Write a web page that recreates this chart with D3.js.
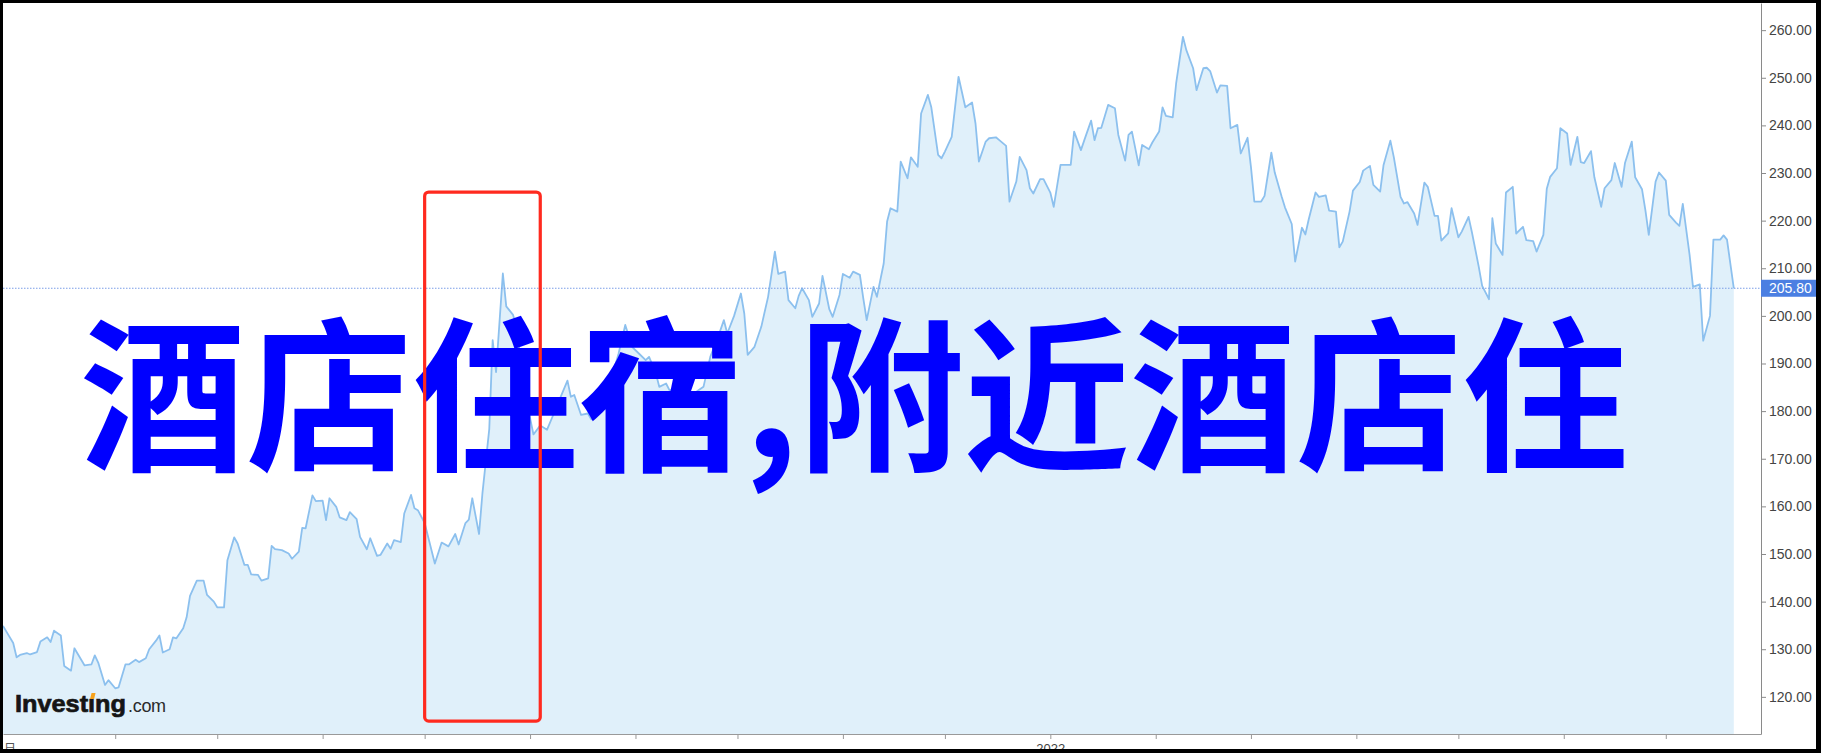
<!DOCTYPE html>
<html><head><meta charset="utf-8">
<script src="https://cdn.jsdelivr.net/npm/d3@7"></script>
<style>html,body{margin:0;padding:0;background:#fff;overflow:hidden}</style>
</head><body><svg id="chart" width="1821" height="753"></svg>
<script>
// ---------- data ----------
const startDate = "2021-02-27";           // day 0 of the series
const endDate = "2022-07-29";             // right edge of the time axis
const dayNumbers = [0,3,4,5,7,8,10,11,13,14,15,17,18,20,21,23,24,26,27,28,30,31,33,34,36,37,39,40,42,43,45,46,47,49,50,51,53,54,55,57,59,60,62,63,65,66,68,69,71,72,73,75,76,78,79,80,82,84,85,87,88,89,91,92,94,95,96,98,99,101,102,104,105,107,108,110,111,113,114,115,117,118,120,121,122,124,127,129,131,133,134,136,137,138,140,141,143,144,145,147,148,150,151,152,154,156,158,160,162,164,166,167,168,170,172,173,174,176,179,181,183,185,187,189,190,192,193,195,196,199,201,204,206,208,210,212,213,215,217,218,219,221,223,225,227,228,230,231,233,234,235,237,238,240,241,243,244,246,247,249,250,252,253,254,256,257,259,260,261,263,264,266,267,269,270,272,273,275,276,277,279,280,281,283,285,286,287,289,290,292,293,295,296,298,299,301,302,303,305,306,308,309,311,314,315,317,318,320,321,322,323,325,327,328,330,331,332,334,335,337,338,340,341,342,344,345,347,348,350,351,353,354,355,357,358,360,361,363,364,366,367,368,370,371,373,374,376,377,379,380,382,383,384,386,387,389,390,392,393,394,396,397,399,400,402,403,405,406,408,409,411,412,413,415,416,418,419,421,422,423,425,426,428,429,431,432,434,435,437,438,439,441,442,444,445,447,448,450,451,453,454,455,457,458,460,461,463,464,465,467,468,470,471,473,474,476,477,479,480,482,483,484,486,487,489,490,492,493,494,496,497,499,500,502,503,505,506,507,509];
const closeValues = [134.9,131.3,128.3,128.8,129.2,128.9,129.4,131.6,132.5,131.5,133.9,132.9,126.5,125.5,130.2,127.8,126.6,126.8,128.7,127.2,122.5,123.5,121.8,122.0,126.8,126.8,127.8,127.3,128.1,130.0,131.8,132.9,129.3,130.0,132.5,132.3,134.4,136.7,141.2,144.4,144.4,141.4,140.0,138.8,138.8,148.7,153.5,152.2,147.7,147.7,145.7,145.6,144.4,144.9,151.7,151.0,150.8,150.1,149.0,150.5,155.5,155.4,162.3,161.1,161.2,157.1,161.7,159.9,157.7,157.1,158.8,157.3,153.6,151.0,153.3,149.6,149.8,152.2,151.1,152.9,152.5,158.5,162.4,159.6,159.2,156.5,148.0,152.4,151.6,154.2,152.0,156.5,157.2,161.7,154.2,162.8,176.2,194.9,188.2,208.9,202.0,200.2,197.8,192.0,182.0,175.1,177.0,176.1,179.5,183.0,186.4,183.0,183.4,179.2,179.5,178.3,178.5,181.0,187.0,192.0,198.1,193.5,192.1,190.7,191.4,187.9,185.1,185.8,184.4,184.4,183.5,184.1,185.1,191.4,195.0,199.1,196.3,200.0,204.7,200.5,191.8,193.5,197.7,204.0,213.5,208.8,209.3,203.3,201.6,204.2,205.8,203.3,199.8,202.6,208.4,201.4,199.8,204.4,208.8,208.0,209.3,208.6,203.7,199.1,206.1,204.0,211.0,219.8,222.6,221.9,232.4,228.9,233.3,231.3,242.5,246.4,243.8,233.8,233.1,234.5,237.6,243.9,250.2,243.8,244.8,240.4,232.4,236.6,237.3,237.5,236.9,235.7,224.0,228.2,233.4,230.6,226.8,225.7,228.7,228.7,225.9,222.9,231.7,231.7,238.7,234.8,236.9,241.0,236.9,239.4,239.5,244.3,243.6,238.0,232.6,238.0,238.7,231.6,235.9,235.0,236.4,238.7,243.8,242.0,241.7,248.8,258.6,255.8,252.0,247.4,252.0,252.1,251.4,246.9,248.4,248.3,239.4,240.1,234.1,237.4,231.3,224.0,224.0,225.2,234.3,230.1,225.1,222.8,219.3,211.4,218.5,217.1,220.3,225.9,225.0,225.3,222.1,221.9,214.4,215.6,221.9,226.3,228.1,230.5,231.5,227.5,226.1,231.7,236.8,233.4,225.0,223.6,223.9,221.5,219.1,228.0,227.1,221.0,221.0,215.8,217.3,222.6,216.5,217.7,220.8,217.5,210.3,206.3,203.5,220.5,215.2,212.8,225.9,227.1,217.3,218.7,215.9,215.7,213.5,217.0,226.7,229.2,231.0,239.4,238.3,231.7,237.6,232.3,232.1,234.6,229.1,222.9,226.8,228.5,232.1,227.1,232.1,236.6,229.1,226.6,222.2,217.0,228.2,230.1,228.4,221.2,219.6,218.9,223.5,212.8,206.1,206.6,194.8,200.0,216.0,216.0,216.9,216.0,205.8];
const yTickValues = [120,130,140,150,160,170,180,190,200,210,220,230,240,250,260];
const yDomain = [112.2, 265.7];
const lastPrice = 205.80;
const yearLabel = "2022";
const cornerLabel = "日";
const titleText = "酒店住宿,附近酒店住";
const highlightDays = [124, 158.2];       // red box: day range
const highlightValues = [226.0, 114.9];   // red box: value range
const logoWord = "Investıng";
const logoSuffix = ".com";

// ---------- layout ----------
const W = 1821, H = 753;
const plotLeft = 3, plotRight = 1761, plotTop = 3, plotBottom = 734;
const svg = d3.select("#chart");
const parse = d3.utcParse("%Y-%m-%d");
const t0 = parse(startDate);
const series = dayNumbers.map((d, i) => ({date: d3.utcDay.offset(t0, d), value: closeValues[i]}));

const x = d3.scaleUtc().domain([t0, parse(endDate)]).range([plotLeft, plotRight]);
const y = d3.scaleLinear().domain(yDomain).range([plotBottom, plotTop]);

svg.append("rect").attr("width", W).attr("height", H).attr("fill", "#fff");

// area + line
svg.append("path").datum(series)
  .attr("d", d3.area().x(d => x(d.date)).y0(plotBottom).y1(d => y(d.value)))
  .attr("fill", "#e0f0fa");
svg.append("path").datum(series)
  .attr("d", d3.line().x(d => x(d.date)).y(d => y(d.value)))
  .attr("fill", "none").attr("stroke", "#8cc0ee").attr("stroke-width", 1.8)
  .attr("stroke-linejoin", "round");

// last price dotted line
svg.append("line")
  .attr("x1", plotLeft).attr("x2", plotRight)
  .attr("y1", y(lastPrice)).attr("y2", y(lastPrice))
  .attr("stroke", "#7b9ee8").attr("stroke-width", 1).attr("stroke-dasharray", "1.5,1.5");

// y axis (right)
const yAxis = svg.append("g").attr("transform", `translate(${plotRight},0)`)
  .call(d3.axisRight(y).tickValues(yTickValues).tickFormat(d3.format(".2f")).tickSize(5).tickSizeOuter(0).tickPadding(3));
yAxis.select(".domain").attr("stroke", "#8a8a8a");
yAxis.selectAll(".tick line").attr("stroke", "#8a8a8a");
yAxis.selectAll(".tick text").attr("fill", "#444").attr("font-size", 14)
  .attr("font-family", "'Liberation Sans', Arial, sans-serif");

// x axis (bottom)
const monthTicks = d3.utcMonth.range(d3.utcMonth.ceil(d3.utcDay.offset(t0, 10)), parse(endDate));
const xAxis = svg.append("g").attr("transform", `translate(0,${plotBottom})`)
  .call(d3.axisBottom(x).tickValues(monthTicks)
    .tickFormat(d => d.getUTCMonth() === 0 ? yearLabel : "")
    .tickSize(5).tickSizeOuter(0).tickPadding(5));
xAxis.select(".domain").attr("stroke", "#999");
xAxis.selectAll(".tick line").attr("stroke", "#999");
xAxis.selectAll(".tick text").attr("fill", "#444").attr("font-size", 13)
  .attr("font-family", "'Liberation Sans', Arial, sans-serif");
svg.append("text").attr("x", 4).attr("y", 753).attr("font-size", 12)
  .attr("fill", "#555").attr("font-family", "'Noto Sans CJK SC', sans-serif").text(cornerLabel);

// last price badge
const badgeY = y(lastPrice);
svg.append("rect").attr("x", plotRight).attr("y", badgeY - 8.5).attr("width", 56).attr("height", 17)
  .attr("fill", "#4b7fe2");
svg.append("text").attr("x", plotRight + 8).attr("y", badgeY).attr("dy", "0.36em")
  .attr("fill", "#fff").attr("font-size", 14)
  .attr("font-family", "'Liberation Sans', Arial, sans-serif")
  .text(d3.format(".2f")(lastPrice));

// logo
const logoText = svg.append("text").attr("x", 15).attr("y", 712)
  .attr("font-family", "'Liberation Sans', Arial, sans-serif").attr("font-weight", "bold")
  .attr("font-size", 24).attr("fill", "#151515").attr("stroke", "#151515").attr("stroke-width", 0.7)
  .attr("textLength", 111).attr("lengthAdjust", "spacingAndGlyphs").text(logoWord);
svg.append("text").attr("x", 128).attr("y", 712)
  .attr("font-family", "'Liberation Sans', Arial, sans-serif")
  .attr("font-size", 18).attr("fill", "#2a2a2a").attr("letter-spacing", -0.3).text(logoSuffix);
try {
  const ext = logoText.node().getExtentOfChar(6);
  const cx = ext.x + ext.width / 2;
  svg.append("path")
    .attr("d", `M${cx - 1.5},${699} L${cx + 2.5},${699} L${cx + 4},${693} L${cx},${693} Z`)
    .attr("fill", "#f7a21b");
} catch (e) {}

// title overlay
svg.append("text").attr("x", 80).attr("y", 458)
  .attr("font-family", "'Noto Sans CJK SC', sans-serif").attr("font-weight", "bold")
  .attr("font-size", 166).attr("fill", "#0000ff").text(titleText);

// highlight box
const hx0 = x(d3.utcDay.offset(t0, highlightDays[0]));
const hx1 = x(d3.utcDay.offset(t0, highlightDays[1]));
const hy0 = y(highlightValues[0]), hy1 = y(highlightValues[1]);
svg.append("rect").attr("x", hx0).attr("y", hy0).attr("width", hx1 - hx0).attr("height", hy1 - hy0)
  .attr("rx", 4).attr("fill", "none").attr("stroke", "#ff2a1f").attr("stroke-width", 3.2);

// black frame
svg.append("rect").attr("x", 0).attr("y", 0).attr("width", 3).attr("height", H).attr("fill", "#000");
svg.append("rect").attr("x", 0).attr("y", 0).attr("width", W).attr("height", 3).attr("fill", "#000");
svg.append("rect").attr("x", 1816).attr("y", 0).attr("width", 5).attr("height", H).attr("fill", "#000");
svg.append("rect").attr("x", 0).attr("y", 749).attr("width", W).attr("height", 4).attr("fill", "#000");
</script></body></html>
